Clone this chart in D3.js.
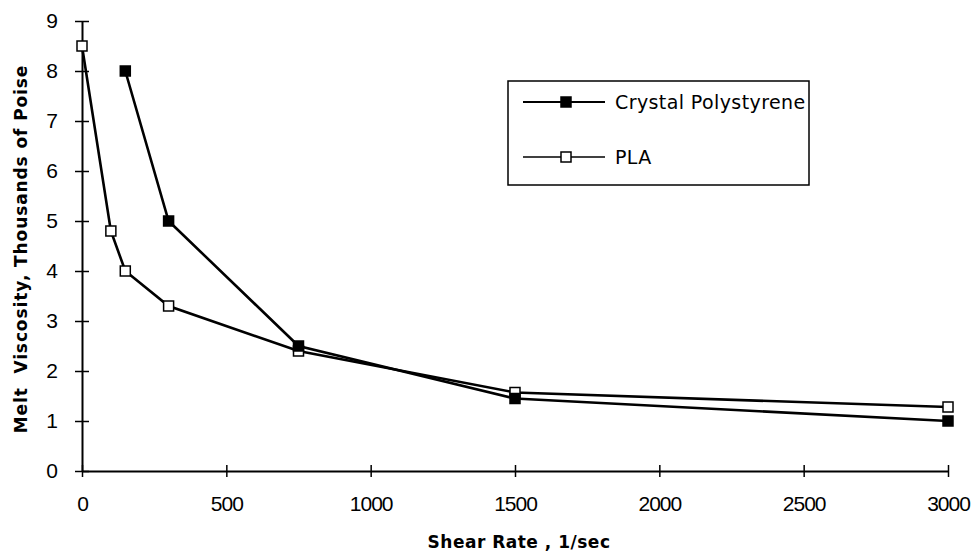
<!DOCTYPE html>
<html>
<head>
<meta charset="utf-8">
<script src="https://cdn.jsdelivr.net/npm/d3@7"></script>
<style>
  body { margin: 0; background: #fff; }
  text { font-family: "Liberation Sans", Arial, sans-serif; fill: #000; }
</style>
</head>
<body>
<div id="chart"></div>
<script>
// data
const psRate = [150, 300, 750, 1500, 3000];
const psVisc = [8.0, 5.0, 2.5, 1.45, 1.0];
const plaRate = [0, 100, 150, 300, 750, 1500, 3000];
const plaVisc = [8.5, 4.8, 4.0, 3.3, 2.4, 1.57, 1.28];
const xTicks = [0, 500, 1000, 1500, 2000, 2500, 3000];
const yTicks = [0, 1, 2, 3, 4, 5, 6, 7, 8, 9];
const seriesNames = ["Crystal Polystyrene", "PLA"];

const W = 971, H = 553;
const margin = {top: 21, right: 23, bottom: 82, left: 82};

const svg = d3.select("#chart").append("svg")
  .attr("width", W).attr("height", H);

const x = d3.scaleLinear().domain([0, 3000]).range([margin.left, W - margin.right]);
const y = d3.scaleLinear().domain([0, 9]).range([H - margin.bottom, margin.top]);

// axes
const xAxis = svg.append("g")
  .attr("transform", "translate(0," + y(0) + ")")
  .call(d3.axisBottom(x).tickValues(xTicks).tickSize(0).tickPadding(25).tickFormat(d3.format("d")));
xAxis.select(".domain").attr("stroke-width", 2);
xAxis.selectAll(".tick").append("line")
  .attr("y1", -6).attr("y2", 6).attr("stroke", "#000").attr("stroke-width", 1.5);
xAxis.selectAll("text").attr("font-size", 21).attr("letter-spacing", -1);

const yAxis = svg.append("g")
  .attr("transform", "translate(" + x(0) + ",0)")
  .call(d3.axisLeft(y).tickValues(yTicks).tickSize(0).tickPadding(24));
yAxis.select(".domain").attr("stroke-width", 2);
yAxis.selectAll(".tick").append("line")
  .attr("x1", -7).attr("x2", 7).attr("stroke", "#000").attr("stroke-width", 1.5);
yAxis.selectAll("text").attr("font-size", 21);

// axis titles
svg.append("text")
  .attr("x", 519).attr("y", 548)
  .attr("text-anchor", "middle")
  .style("font-family", "'DejaVu Sans', sans-serif")
  .attr("font-size", 17).attr("font-weight", "bold").attr("letter-spacing", 0.5)
  .text("Shear Rate , 1/sec");

svg.append("text")
  .attr("transform", "translate(27,249) rotate(-90)")
  .attr("text-anchor", "middle")
  .style("font-family", "'DejaVu Sans', sans-serif")
  .attr("font-size", 17).attr("font-weight", "bold").attr("letter-spacing", 0.9)
  .attr("xml:space", "preserve")
  .text("Melt  Viscosity, Thousands of Poise");

// series
const line = d3.line().x(d => x(d[0])).y(d => y(d[1]));
const psData = psRate.map((r, i) => [r, psVisc[i]]);
const plaData = plaRate.map((r, i) => [r, plaVisc[i]]);

function drawSeries(data, fill) {
  svg.append("path")
    .datum(data)
    .attr("d", line)
    .attr("fill", "none")
    .attr("stroke", "#000")
    .attr("stroke-width", 2.6);
  svg.selectAll(null)
    .data(data)
    .enter()
    .append("rect")
    .attr("x", d => x(d[0]) - 5)
    .attr("y", d => y(d[1]) - 5)
    .attr("width", 10).attr("height", 10)
    .attr("fill", fill)
    .attr("stroke", "#000").attr("stroke-width", 1.5);
}
drawSeries(plaData, "#fff");
drawSeries(psData, "#000");

// legend
const lg = svg.append("g");
lg.append("rect")
  .attr("x", 508).attr("y", 81).attr("width", 301).attr("height", 104)
  .attr("fill", "#fff").attr("stroke", "#000").attr("stroke-width", 1.5);
seriesNames.forEach((name, i) => {
  const ly = [102, 157][i];
  lg.append("line")
    .attr("x1", 523).attr("x2", 605).attr("y1", ly).attr("y2", ly)
    .attr("stroke", "#000").attr("stroke-width", i == 0 ? 2.2 : 1.6);
  lg.append("rect")
    .attr("x", 561).attr("y", ly - 5).attr("width", 10).attr("height", 10)
    .attr("fill", i == 0 ? "#000" : "#fff")
    .attr("stroke", "#000").attr("stroke-width", 1.5);
  lg.append("text")
    .attr("x", 615).attr("y", ly + 7)
    .style("font-family", "'DejaVu Sans', sans-serif")
    .attr("font-size", 19).attr("letter-spacing", 0.4)
    .text(name);
});
</script>
</body>
</html>
